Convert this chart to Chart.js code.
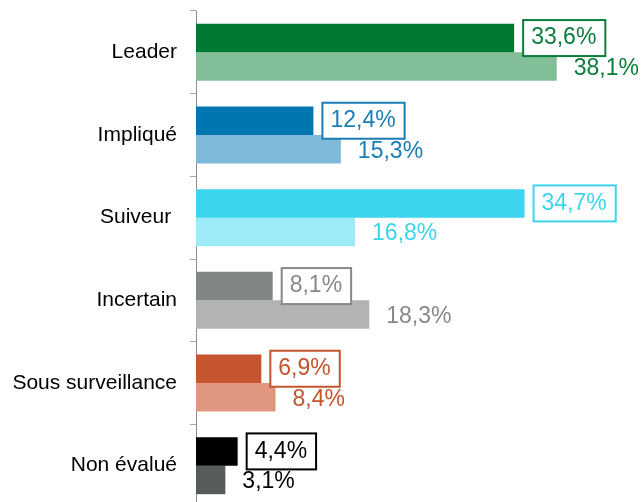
<!DOCTYPE html>
<html>
<head>
<meta charset="utf-8">
<script src="https://cdn.jsdelivr.net/npm/chart.js@4"></script>
<style>
  html, body { margin: 0; padding: 0; background: #fff; overflow: hidden; }
  #wrap { width: 642px; height: 508px; position: relative; }
</style>
</head>
<body>
<div id="wrap"><canvas id="c"></canvas></div>
<script>
const categories = ["Leader", "Impliqué", "Suiveur ", "Incertain", "Sous surveillance", "Non évalué"];
const seriesA = [33.6, 12.4, 34.7, 8.1, 6.9, 4.4];
const seriesB = [38.1, 15.3, 16.8, 18.3, 8.4, 3.1];
const colorsA = ["#007A33", "#0076B0", "#3BD5EE", "#828585", "#C4552F", "#000000"];
const colorsB = ["#82BF98", "#7FB9D7", "#9DEBF6", "#B2B3B3", "#E0967F", "#575B5B"];
const labelColors = ["#0B7D3A", "#1A7DB6", "#3BD5EE", "#888888", "#C4552F", "#000000"];

const fmt = v => v.toFixed(1).replace('.', ',') + '%';

const valueLabels = {
  id: 'valueLabels',
  afterDatasetsDraw(chart) {
    const ctx = chart.ctx;
    ctx.save();
    ctx.font = '23px "Liberation Sans", Arial, sans-serif';
    ctx.textBaseline = 'middle';
    ctx.textAlign = 'left';
    chart.data.datasets.forEach((ds, di) => {
      const meta = chart.getDatasetMeta(di);
      meta.data.forEach((bar, i) => {
        const txt = fmt(ds.data[i]);
        const col = labelColors[i];
        const tx = bar.x + 17;
        const ty = bar.y + (di === 1 ? 2 : 0);
        if (di === 0) {
          const w = ctx.measureText(txt).width;
          ctx.fillStyle = '#ffffff';
          ctx.fillRect(bar.x + 9, bar.y - 18, w + 17, 36);
          ctx.strokeStyle = col;
          ctx.lineWidth = 2;
          ctx.strokeRect(bar.x + 9, bar.y - 18, w + 17, 36);
        }
        ctx.fillStyle = col;
        ctx.fillText(txt, tx, ty);
      });
    });
    ctx.restore();
  }
};

new Chart(document.getElementById('c'), {
  type: 'bar',
  data: {
    labels: categories,
    datasets: [
      { data: seriesA, backgroundColor: colorsA, borderWidth: 0, categoryPercentage: 0.69, barPercentage: 1.0 },
      { data: seriesB, backgroundColor: colorsB, borderWidth: 0, categoryPercentage: 0.69, barPercentage: 1.0 }
    ]
  },
  options: {
    indexAxis: 'y',
    responsive: true,
    maintainAspectRatio: false,
    animation: false,
    layout: { padding: { top: 11, bottom: 1, left: 0, right: 1 } },
    plugins: { legend: { display: false }, tooltip: { enabled: false } },
    scales: {
      x: { display: false, min: 0, max: 47 },
      y: {
        afterFit(scale) { scale.width = 196; scale.paddingTop = 0; scale.paddingBottom = 0; },
        border: { display: true, color: '#8C8C8C', width: 1 },
        grid: { offset: true, drawOnChartArea: false, drawTicks: true, tickLength: 6, color: '#A6A6A6' },
        ticks: { color: '#000000', padding: 13, font: { family: '"Liberation Sans", Arial, sans-serif', size: 21 } }
      }
    }
  },
  plugins: [valueLabels]
});
</script>
</body>
</html>
